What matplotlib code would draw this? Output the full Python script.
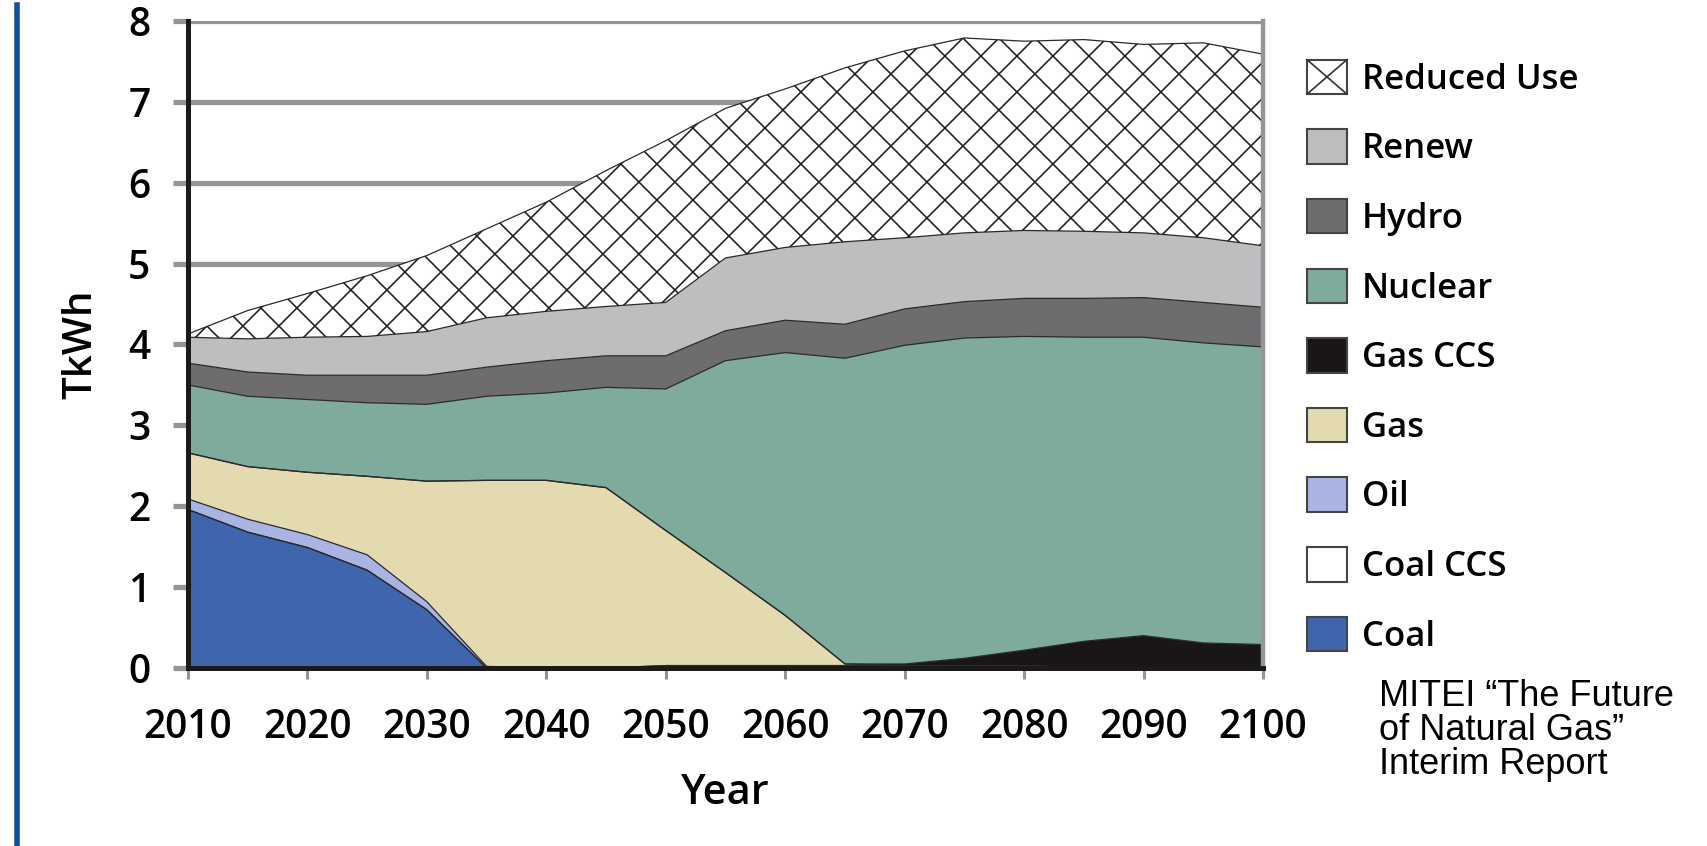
import numpy as np
import matplotlib
matplotlib.use('Agg')
from matplotlib import pyplot as plt
from matplotlib.patches import Patch, Rectangle
from matplotlib.lines import Line2D
from matplotlib.legend_handler import HandlerBase

# data (TkWh, 5-year steps)
years = [2010, 2015, 2020, 2025, 2030, 2035, 2040, 2045, 2050, 2055,
         2060, 2065, 2070, 2075, 2080, 2085, 2090, 2095, 2100]
coal = [1.96, 1.68, 1.49, 1.21, 0.72, 0, 0, 0, 0, 0, 0, 0, 0, 0, 0, 0, 0, 0, 0]
coal_ccs = [0, 0, 0, 0, 0, 0, 0, 0, 0.03, 0.03, 0.03, 0.03, 0.03, 0.03, 0.03, 0, 0, 0, 0]
oil = [0.13, 0.16, 0.16, 0.19, 0.10, 0.02, 0, 0, 0, 0, 0, 0, 0, 0, 0, 0, 0, 0, 0]
gas = [0.57, 0.65, 0.77, 0.97, 1.49, 2.30, 2.32, 2.23, 1.67, 1.15, 0.62, 0.02, 0, 0, 0, 0, 0, 0, 0]
gas_ccs = [0, 0, 0, 0, 0, 0, 0, 0, 0, 0, 0, 0, 0.02, 0.09, 0.19, 0.33, 0.40, 0.31, 0.29]
nuclear = [0.84, 0.87, 0.90, 0.91, 0.95, 1.04, 1.08, 1.24, 1.75, 2.62,
           3.25, 3.78, 3.94, 3.96, 3.88, 3.76, 3.69, 3.71, 3.68]
hydro = [0.27, 0.30, 0.30, 0.34, 0.36, 0.36, 0.40, 0.39, 0.41, 0.37,
         0.40, 0.42, 0.45, 0.45, 0.47, 0.48, 0.49, 0.50, 0.49]
renew = [0.32, 0.41, 0.47, 0.48, 0.54, 0.61, 0.61, 0.61, 0.66, 0.90,
         0.90, 1.02, 0.88, 0.85, 0.84, 0.83, 0.80, 0.80, 0.76]
reduced = [0.04, 0.35, 0.54, 0.75, 0.94, 1.10, 1.35, 1.68, 2.00, 1.85,
           1.96, 2.15, 2.31, 2.41, 2.34, 2.37, 2.33, 2.41, 2.37]

labels = ['Coal', 'Coal CCS', 'Oil', 'Gas', 'Gas CCS', 'Nuclear', 'Hydro', 'Renew', 'Reduced Use']
colors = ['#3f66ad', '#ffffff', '#a9b3e4', '#e4dab0', '#1b1616', '#7eab9b', '#6d6d70', '#bdbec0', '#ffffff']
xticks = [2010, 2020, 2030, 2040, 2050, 2060, 2070, 2080, 2090, 2100]
yticks = [0, 1, 2, 3, 4, 5, 6, 7, 8]

GRID = '#939598'
FONT = 'Open Sans'

fig = plt.figure(figsize=(17.07, 8.46), dpi=100)
ax = fig.add_axes([0.1101, 0.2104, 0.6298, 0.7648])

series = [coal, coal_ccs, oil, gas, gas_ccs, nuclear, hydro, renew, reduced]
polys = ax.stackplot(years, *series, colors=colors, linewidth=0, zorder=2)

# thin dark boundaries between layers
tops = np.cumsum(np.array(series, dtype=float), axis=0)
for t in tops:
    ax.plot(years, t, color='#2a2a2a', lw=0.9, zorder=3)

# coarse cross-hatch for "Reduced Use", clipped to its area
ax.set_xlim(2010, 2100)
ax.set_ylim(0, 8)
pos = ax.get_position()
W = pos.width * fig.get_figwidth() * fig.dpi
H = pos.height * fig.get_figheight() * fig.dpi
step = 36.0 / W
clip = polys[-1].get_paths()[0]
t = np.array([0, W + H])
for c in np.arange(-H / W - step, 1 + H / W + step, step):
    for sgn in (1, -1):
        ln, = ax.plot(c + sgn * t / W, t / H, color='#1e1e1e', lw=1.15,
                      transform=ax.transAxes, zorder=3)
        ln.set_clip_path(clip, ax.transData)

# grid and axes styling
for y in yticks[1:]:
    ax.axhline(y, color=GRID, lw=3.8, zorder=1)
ax.set_xticks(xticks)
ax.set_yticks(yticks)
ax.tick_params(axis='y', length=11, width=3.8, color=GRID, pad=16, labelsize=28)
ax.tick_params(axis='x', length=8, width=2.2, color=GRID, pad=21, labelsize=28)
for lab in ax.get_xticklabels() + ax.get_yticklabels():
    lab.set_fontfamily(FONT)
    lab.set_fontweight('semibold')
ax.spines['left'].set_color('#1a1a1a')
ax.spines['left'].set_linewidth(3.6)
ax.spines['bottom'].set_color('#1a1a1a')
ax.spines['bottom'].set_linewidth(3.6)
ax.spines['right'].set_color(GRID)
ax.spines['right'].set_linewidth(3.2)
ax.spines['top'].set_visible(False)
for s in ax.spines.values():
    s.set_zorder(5)

ax.set_xlabel('Year', fontsize=30, fontfamily=FONT, fontweight='semibold', labelpad=17)
ax.set_ylabel('TkWh', fontsize=29, fontfamily=FONT, fontweight='semibold', labelpad=19)


class CrossHandler(HandlerBase):
    def create_artists(self, legend, orig, xd, yd, width, height, fontsize, trans):
        r = Rectangle((-xd, -yd), width, height, facecolor='white',
                      edgecolor='#444444', lw=1.5, transform=trans)
        l1 = Line2D([-xd, -xd + width], [-yd, -yd + height], color='#333333', lw=1.2, transform=trans)
        l2 = Line2D([-xd, -xd + width], [-yd + height, -yd], color='#333333', lw=1.2, transform=trans)
        return [r, l1, l2]


handles = [Patch(facecolor=c, edgecolor='#444444', lw=1.5) for c in colors]
handles = handles[::-1]
leg = fig.legend(handles, labels[::-1], loc='upper left', bbox_to_anchor=(0.7555, 0.950),
                 frameon=False, borderpad=0, handlelength=1.15, handleheight=1.15,
                 handletextpad=0.42, labelspacing=0.94,
                 handler_map={handles[0]: CrossHandler()},
                 prop={'family': FONT, 'weight': 'semibold', 'size': 25})

fig.text(0.808, 0.197, 'MITEI \u201cThe Future\nof Natural Gas\u201d\nInterim Report',
         ha='left', va='top', fontsize=26, fontfamily='Liberation Sans', linespacing=0.95)

# blue rule at the left edge of the slide
fig.add_artist(Line2D([0.0102, 0.0102], [0.0, 0.994], color='#174e9c', lw=4.0))

fig.savefig('out.png', dpi=100)
